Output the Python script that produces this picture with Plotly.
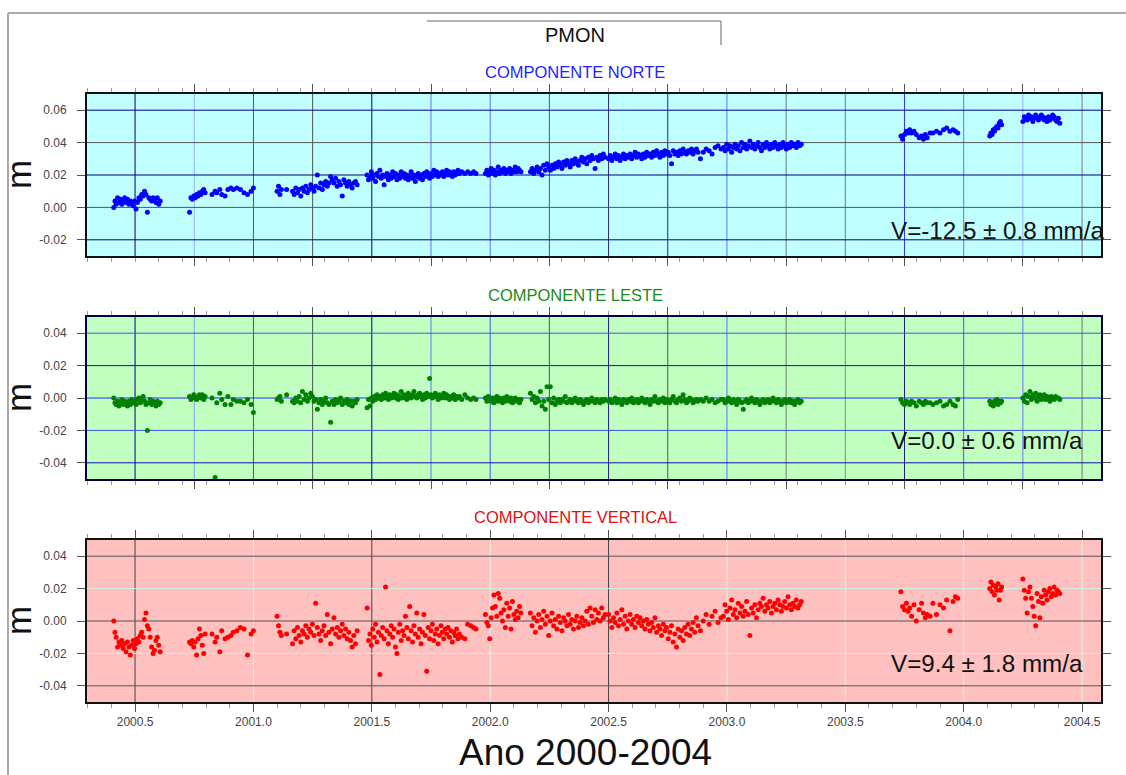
import plotly.graph_objects as go

# ---------------- DATA ----------------
# Epochs (decimal years) of each observation segment, with the North (N),
# East (E) and Up (U) residuals in metres.
tA = [2000.410, 2000.415, 2000.420, 2000.426, 2000.432, 2000.438, 2000.444, 2000.450, 2000.456, 2000.462,
      2000.468, 2000.474, 2000.480, 2000.486, 2000.492, 2000.498, 2000.504, 2000.510, 2000.516, 2000.522,
      2000.528, 2000.534, 2000.540, 2000.546, 2000.552, 2000.558, 2000.564, 2000.570, 2000.576, 2000.582,
      2000.588, 2000.594, 2000.600, 2000.606]
nA = [0.000, 0.004, 0.002, 0.006, 0.003, 0.005, 0.002, 0.004, 0.006, 0.003, 0.005, 0.002, 0.004, 0.003,
      0.001, 0.004, -0.001, 0.003, 0.006, 0.005, 0.008, 0.007, 0.010, 0.008, -0.003, 0.006, 0.005, 0.004,
      0.006, 0.005, 0.003, 0.006, 0.002, 0.004]
eA = [0.000, -0.003, -0.004, -0.002, -0.005, -0.003, -0.001, -0.004, -0.002, -0.003, -0.005, -0.002, -0.004,
      -0.001, -0.003, -0.002, -0.004, -0.001, 0.000, -0.003, -0.002, 0.001, -0.002, -0.004, -0.020, -0.003,
      -0.001, -0.004, -0.002, -0.003, -0.005, -0.002, -0.004, -0.003]
uA = [0.000, -0.007, -0.010, -0.016, -0.013, -0.015, -0.012, -0.017, -0.014, -0.019, -0.013, -0.016, -0.021,
      -0.015, -0.012, -0.017, -0.014, -0.011, -0.013, -0.009, -0.007, -0.010, 0.001, 0.005, -0.003, -0.005,
      -0.010, -0.016, -0.020, -0.018, -0.012, -0.010, -0.015, -0.019]

tB = [2000.730, 2000.736, 2000.742, 2000.748, 2000.754, 2000.760, 2000.766, 2000.772, 2000.778, 2000.784,
      2000.790, 2000.796]
nB = [-0.003, 0.006, 0.005, 0.007, 0.006, 0.008, 0.007, 0.009, 0.008, 0.010, 0.011, 0.009]
eB = [0.001, -0.001, 0.000, 0.002, 0.000, -0.001, 0.001, 0.002, 0.000, 0.002, -0.001, 0.001]
uB = [-0.013, -0.014, -0.012, -0.016, -0.013, -0.021, -0.011, -0.005, -0.009, -0.015, -0.020, -0.008]

tC = [2000.825, 2000.838, 2000.845, 2000.858, 2000.866, 2000.880, 2000.892, 2000.905, 2000.915, 2000.930,
      2000.945, 2000.960, 2000.975, 2000.990, 2001.000]
nC = [0.008, 0.010, 0.009, 0.011, 0.008, 0.007, 0.011, 0.012, 0.011, 0.012, 0.011, 0.009, 0.008, 0.010, 0.012]
eC = [0.000, -0.049, -0.003, 0.003, -0.001, -0.004, 0.001, -0.004, -0.001, -0.002, -0.002, -0.003, -0.001,
      -0.004, -0.009]
uC = [-0.008, -0.013, -0.010, -0.019, -0.006, -0.011, -0.010, -0.009, -0.007, -0.006, -0.004, -0.005, -0.021,
      -0.008, -0.006]

tD = [2001.100, 2001.106, 2001.112, 2001.118, 2001.140, 2001.165, 2001.172, 2001.179, 2001.186, 2001.193,
      2001.200, 2001.207, 2001.214, 2001.221, 2001.228, 2001.235, 2001.242, 2001.249, 2001.256, 2001.263,
      2001.270, 2001.277, 2001.284, 2001.291, 2001.298, 2001.305, 2001.312, 2001.319, 2001.326, 2001.333,
      2001.340, 2001.347, 2001.354, 2001.361, 2001.368, 2001.375, 2001.382, 2001.389, 2001.396, 2001.403,
      2001.410, 2001.417, 2001.424, 2001.431, 2001.438]
nD = [0.010, 0.013, 0.008, 0.011, 0.011, 0.010, 0.008, 0.012, 0.009, 0.011, 0.007, 0.012, 0.010, 0.013, 0.009,
      0.011, 0.014, 0.012, 0.010, 0.013, 0.020, 0.012, 0.015, 0.011, 0.014, 0.016, 0.013, 0.015, 0.019, 0.017,
      0.015, 0.018, 0.013, 0.016, 0.014, 0.007, 0.017, 0.015, 0.013, 0.016, 0.014, 0.012, 0.015, 0.016, 0.014]
eD = [-0.001, 0.000, 0.001, -0.002, 0.002, -0.002, -0.003, 0.000, -0.002, 0.001, -0.003, 0.004, -0.001, 0.002,
      -0.002, 0.000, 0.003, 0.001, -0.002, -0.001, -0.007, -0.003, -0.001, -0.004, -0.002, 0.000, -0.003,
      -0.004, -0.015, -0.002, -0.004, -0.001, -0.003, -0.002, 0.000, -0.004, -0.002, -0.003, -0.001, -0.004,
      -0.002, -0.005, -0.002, -0.003, -0.001]
uD = [0.003, -0.003, -0.007, -0.009, -0.008, -0.014, -0.006, -0.011, -0.004, -0.009, -0.013, -0.006, -0.008,
      -0.003, -0.010, -0.005, -0.007, -0.002, -0.009, 0.011, -0.004, -0.008, -0.012, -0.006, -0.003, -0.009,
      0.004, -0.007, -0.014, -0.005, 0.002, -0.008, -0.004, -0.010, -0.006, -0.002, -0.009, -0.005, -0.011,
      -0.007, -0.012, -0.016, -0.009, -0.014, -0.006]

tE = [2001.480, 2001.486, 2001.492, 2001.498, 2001.504, 2001.510,
      2001.516, 2001.522, 2001.528, 2001.534, 2001.540, 2001.546,
      2001.552, 2001.558, 2001.564, 2001.570, 2001.576, 2001.582,
      2001.588, 2001.594, 2001.600, 2001.606, 2001.612, 2001.618,
      2001.624, 2001.630, 2001.636, 2001.642, 2001.648, 2001.654,
      2001.660, 2001.666, 2001.672, 2001.678, 2001.684, 2001.690,
      2001.696, 2001.702, 2001.708, 2001.714, 2001.720, 2001.726,
      2001.732, 2001.738, 2001.744, 2001.750, 2001.756, 2001.762,
      2001.768, 2001.774, 2001.780, 2001.786, 2001.792, 2001.798,
      2001.804, 2001.810, 2001.816, 2001.822, 2001.828, 2001.834,
      2001.840, 2001.846, 2001.852, 2001.858, 2001.864, 2001.870,
      2001.880, 2001.893, 2001.905, 2001.918, 2001.930, 2001.940]
nE = [0.020, 0.017, 0.019, 0.022, 0.018, 0.020,
      0.016, 0.021, 0.019, 0.023, 0.018, 0.020,
      0.014, 0.019, 0.021, 0.017, 0.020, 0.018,
      0.022, 0.019, 0.021, 0.017, 0.020, 0.018,
      0.022, 0.019, 0.021, 0.018, 0.020, 0.017,
      0.019, 0.022, 0.018, 0.020, 0.016, 0.019,
      0.021, 0.018, 0.020, 0.017, 0.021, 0.019,
      0.022, 0.020, 0.018, 0.021, 0.019, 0.023,
      0.020, 0.022, 0.019, 0.021, 0.020, 0.022,
      0.019, 0.021, 0.023, 0.020, 0.022, 0.021,
      0.019, 0.022, 0.020, 0.021, 0.023, 0.021,
      0.022, 0.021, 0.022, 0.021, 0.022, 0.021]
eE = [-0.006, -0.001, -0.005, 0.000, -0.002, 0.001,
      -0.001, 0.002, 0.000, 0.001, -0.001, 0.002,
      0.000, 0.003, 0.001, -0.001, 0.002, 0.000,
      0.001, 0.003, 0.000, 0.002, -0.001, 0.001,
      0.004, 0.000, 0.002, 0.001, -0.001, 0.003,
      0.001, 0.000, 0.002, 0.004, 0.001, 0.000,
      0.002, 0.003, 0.001, -0.001, 0.002, 0.000,
      0.003, 0.001, 0.012, 0.002, 0.000, 0.001,
      0.003, 0.001, -0.001, 0.002, 0.000, 0.001,
      0.003, 0.000, 0.002, 0.001, -0.001, 0.001,
      0.000, 0.002, -0.001, 0.001, 0.000, 0.001,
      -0.001, 0.002, 0.000, -0.001, 0.000, -0.001]
uE = [0.008, -0.012, -0.008, -0.015, -0.005, -0.010,
      -0.002, -0.013, -0.007, -0.033, -0.009, -0.004,
      -0.011, 0.021, -0.006, -0.014, -0.008, -0.003,
      -0.010, -0.005, -0.016, -0.020, -0.007, -0.002,
      -0.012, -0.006, -0.009, 0.003, -0.004, -0.011,
      0.009, -0.006, -0.013, -0.003, -0.008, 0.005,
      -0.010, -0.005, -0.014, -0.007, 0.004, -0.009,
      -0.031, -0.004, -0.011, -0.006, -0.002, -0.012,
      -0.008, -0.005, -0.014, -0.009, -0.003, -0.007,
      -0.011, -0.005, -0.008, -0.004, -0.010, -0.006,
      -0.013, -0.007, -0.009, -0.005, -0.011, -0.008,
      -0.010, -0.011, -0.002, -0.003, -0.004, -0.005]

tF = [2001.980, 2001.986, 2001.992, 2001.998, 2002.004, 2002.010,
      2002.016, 2002.022, 2002.028, 2002.034, 2002.040, 2002.046,
      2002.052, 2002.058, 2002.064, 2002.070, 2002.076, 2002.082,
      2002.088, 2002.094, 2002.100, 2002.106, 2002.112, 2002.118,
      2002.124, 2002.130]
nF = [0.021, 0.023, 0.020, 0.022, 0.024, 0.021,
      0.023, 0.020, 0.022, 0.025, 0.021, 0.023,
      0.022, 0.024, 0.021, 0.023, 0.022, 0.024,
      0.021, 0.023, 0.022, 0.025, 0.022, 0.024,
      0.023, 0.022]
eF = [0.000, -0.002, 0.001, -0.001, -0.002, 0.000,
      -0.003, -0.001, 0.001, -0.002, 0.000, -0.001,
      -0.003, 0.000, -0.002, 0.001, -0.001, -0.002,
      0.000, -0.003, -0.001, 0.000, -0.002, -0.001,
      -0.003, -0.001]
uF = [0.004, -0.001, -0.003, -0.011, 0.002, 0.008,
      0.016, 0.009, 0.003, 0.017, 0.014, 0.005,
      0.000, 0.007, -0.004, 0.011, 0.003, 0.008,
      -0.005, 0.012, 0.004, 0.001, 0.006, 0.002,
      0.009, 0.005]

tG = [2002.170, 2002.177, 2002.184, 2002.191, 2002.198, 2002.205,
      2002.212, 2002.219, 2002.226, 2002.233, 2002.240, 2002.247,
      2002.254, 2002.261, 2002.268, 2002.275, 2002.282, 2002.289,
      2002.296, 2002.303, 2002.310, 2002.317, 2002.324, 2002.331,
      2002.338, 2002.345, 2002.352, 2002.359, 2002.366, 2002.373,
      2002.380, 2002.387, 2002.394, 2002.401, 2002.408, 2002.415,
      2002.422, 2002.429, 2002.436, 2002.443, 2002.450, 2002.457,
      2002.464, 2002.471, 2002.478, 2002.485]
nG = [0.022, 0.024, 0.021, 0.023, 0.025, 0.022,
      0.024, 0.020, 0.026, 0.023, 0.027, 0.025,
      0.023, 0.026, 0.024, 0.027, 0.025, 0.028,
      0.026, 0.024, 0.028, 0.026, 0.029, 0.027,
      0.025, 0.029, 0.027, 0.030, 0.028, 0.026,
      0.029, 0.031, 0.028, 0.030, 0.027, 0.031,
      0.029, 0.032, 0.030, 0.024, 0.031, 0.029,
      0.032, 0.030, 0.033, 0.031]
eG = [0.003, -0.001, 0.001, -0.003, 0.000, -0.002,
      0.004, -0.005, -0.002, -0.007, 0.007, -0.001,
      0.007, -0.003, 0.000, -0.004, -0.002, -0.001,
      -0.003, -0.001, -0.002, 0.001, -0.003, -0.002,
      -0.001, -0.003, -0.002, 0.000, -0.002, -0.003,
      -0.001, -0.002, -0.004, -0.002, -0.001, -0.003,
      -0.002, 0.000, -0.002, -0.003, -0.001, -0.002,
      -0.003, -0.001, -0.002, -0.001]
uG = [0.005, -0.003, 0.002, -0.007, 0.000, 0.004,
      -0.004, 0.001, 0.006, -0.002, 0.003, -0.009,
      0.000, 0.005, -0.003, 0.001, -0.005, 0.003,
      -0.001, -0.006, 0.002, 0.000, -0.003, 0.004,
      -0.002, 0.001, -0.005, 0.000, 0.003, -0.004,
      -0.001, 0.002, -0.003, 0.000, 0.006, -0.002,
      0.008, 0.003, -0.001, 0.007, 0.001, 0.005,
      0.000, 0.008, 0.002, 0.004]

tH = [2002.500, 2002.507, 2002.514, 2002.521, 2002.528, 2002.535,
      2002.542, 2002.549, 2002.556, 2002.563, 2002.570, 2002.577,
      2002.584, 2002.591, 2002.598, 2002.605, 2002.612, 2002.619,
      2002.626, 2002.633, 2002.640, 2002.647, 2002.654, 2002.661,
      2002.668, 2002.675, 2002.682, 2002.689, 2002.696, 2002.703,
      2002.710, 2002.717, 2002.724, 2002.731, 2002.738, 2002.745,
      2002.752, 2002.759, 2002.766, 2002.773, 2002.780, 2002.787,
      2002.794, 2002.801, 2002.808, 2002.815, 2002.822, 2002.829,
      2002.836, 2002.843, 2002.850, 2002.857, 2002.864, 2002.871,
      2002.878]
nH = [0.030, 0.032, 0.029, 0.031, 0.033, 0.030,
      0.032, 0.029, 0.031, 0.033, 0.030, 0.032,
      0.031, 0.033, 0.030, 0.032, 0.034, 0.031,
      0.033, 0.032, 0.030, 0.033, 0.031, 0.034,
      0.032, 0.033, 0.031, 0.034, 0.032, 0.035,
      0.033, 0.031, 0.034, 0.032, 0.035, 0.033,
      0.034, 0.032, 0.027, 0.035, 0.033, 0.034,
      0.032, 0.035, 0.033, 0.036, 0.034, 0.033,
      0.035, 0.034, 0.036, 0.033, 0.035, 0.036,
      0.034]
eH = [-0.002, -0.001, -0.003, -0.002, 0.000, -0.003,
      -0.001, -0.002, -0.004, -0.001, -0.002, -0.003,
      -0.001, -0.002, 0.000, -0.003, -0.002, -0.001,
      -0.003, -0.002, 0.000, -0.002, -0.003, -0.001,
      -0.002, -0.004, -0.001, -0.002, 0.001, -0.002,
      -0.003, -0.001, -0.002, 0.000, -0.003, -0.001,
      -0.002, -0.003, -0.001, 0.001, -0.002, -0.003,
      -0.001, 0.000, -0.002, 0.002, -0.001, -0.003,
      -0.002, 0.000, -0.001, -0.003, -0.002, -0.001,
      -0.002]
uH = [0.004, 0.000, -0.004, 0.002, -0.001, 0.005,
      -0.003, 0.001, 0.007, -0.002, 0.003, -0.005,
      0.000, 0.004, -0.002, 0.001, -0.004, 0.003,
      -0.001, 0.002, -0.003, 0.000, -0.005, 0.001,
      -0.002, -0.006, -0.001, -0.004, 0.002, -0.007,
      -0.003, -0.005, -0.009, -0.002, -0.006, -0.004,
      -0.011, -0.007, -0.003, -0.013, -0.008, -0.016,
      -0.005, -0.010, -0.006, -0.012, -0.004, -0.008,
      -0.002, -0.009, -0.005, -0.001, -0.007, 0.002,
      -0.003]

tI = [2002.888, 2002.900, 2002.912, 2002.925, 2002.937, 2002.950, 2002.962, 2002.975]
nI = [0.030, 0.034, 0.036, 0.035, 0.033, 0.037, 0.038, 0.036]
eI = [-0.001, -0.002, 0.000, -0.002, -0.001, -0.003, -0.002, -0.001]
uI = [-0.006, 0.000, 0.004, -0.002, 0.003, 0.006, -0.001, 0.002]

tJ = [2002.985, 2002.992, 2002.999, 2003.006, 2003.013, 2003.020,
      2003.027, 2003.034, 2003.041, 2003.048, 2003.055, 2003.062,
      2003.069, 2003.076, 2003.083, 2003.090, 2003.097, 2003.104,
      2003.111, 2003.118, 2003.125, 2003.132, 2003.139, 2003.146,
      2003.153, 2003.160, 2003.167, 2003.174, 2003.181, 2003.188,
      2003.195, 2003.202, 2003.209, 2003.216, 2003.223, 2003.230,
      2003.237, 2003.244, 2003.251, 2003.258, 2003.265, 2003.272,
      2003.279, 2003.286, 2003.293, 2003.300, 2003.307, 2003.314]
nJ = [0.037, 0.035, 0.039, 0.036, 0.038, 0.034,
      0.037, 0.039, 0.036, 0.038, 0.035, 0.040,
      0.037, 0.039, 0.036, 0.038, 0.041, 0.037,
      0.039, 0.036, 0.038, 0.040, 0.037, 0.035,
      0.039, 0.037, 0.040, 0.038, 0.036, 0.039,
      0.037, 0.040, 0.038, 0.036, 0.039, 0.037,
      0.040, 0.038, 0.036, 0.039, 0.037, 0.040,
      0.038, 0.039, 0.037, 0.040, 0.038, 0.039]
eJ = [-0.001, -0.003, -0.002, 0.000, -0.002, -0.003,
      -0.001, -0.002, -0.004, -0.001, -0.002, -0.003,
      -0.007, -0.002, -0.001, -0.003, -0.002, 0.000,
      -0.002, -0.003, -0.001, -0.002, -0.004, -0.002,
      -0.001, -0.003, -0.002, -0.001, -0.003, -0.002,
      0.000, -0.002, -0.003, -0.001, -0.002, -0.004,
      -0.002, -0.001, -0.003, -0.002, -0.001, -0.003,
      -0.002, -0.004, -0.002, -0.001, -0.003, -0.002]
uJ = [0.003, 0.010, 0.006, 0.001, 0.008, 0.013,
      0.004, 0.007, 0.002, 0.011, 0.005, 0.009,
      0.003, 0.006, 0.012, 0.004, -0.009, 0.008,
      0.005, 0.010, 0.002, 0.007, 0.011, 0.009,
      0.014, 0.006, 0.010, 0.008, 0.012, 0.005,
      0.009, 0.011, 0.007, 0.013, 0.010, 0.006,
      0.009, 0.012, 0.008, 0.015, 0.010, 0.007,
      0.011, 0.009, 0.013, 0.008, 0.010, 0.012]

tK = [2003.735, 2003.742, 2003.750, 2003.758, 2003.765, 2003.772, 2003.780, 2003.790, 2003.800, 2003.812,
      2003.822, 2003.830, 2003.838, 2003.846, 2003.858, 2003.870, 2003.885, 2003.900, 2003.915, 2003.928,
      2003.942, 2003.955, 2003.965, 2003.975]
nK = [0.044, 0.042, 0.045, 0.047, 0.046, 0.048, 0.046, 0.047, 0.045, 0.043, 0.044, 0.042, 0.045, 0.043,
      0.046, 0.046, 0.047, 0.046, 0.048, 0.049, 0.047, 0.048, 0.047, 0.046]
eK = [-0.001, -0.003, -0.004, -0.002, -0.003, -0.004, -0.002, -0.003, -0.005, -0.002, -0.003, -0.004,
      -0.002, -0.003, -0.003, -0.004, -0.003, -0.002, -0.005, -0.004, -0.002, -0.004, -0.005, -0.001]
uK = [0.018, 0.009, 0.007, 0.011, 0.006, 0.008, 0.003, 0.010, 0.000, 0.007, 0.011, 0.005, 0.002, 0.004,
      0.003, 0.011, 0.004, 0.010, 0.008, 0.013, -0.006, 0.012, 0.015, 0.014]

tL = [2004.110, 2004.115, 2004.120, 2004.125, 2004.130, 2004.135, 2004.140, 2004.145, 2004.150, 2004.155,
      2004.160]
nL = [0.044, 0.046, 0.045, 0.048, 0.047, 0.049, 0.050, 0.049, 0.052, 0.053, 0.051]
eL = [-0.002, -0.004, -0.003, -0.005, -0.002, -0.003, -0.001, -0.004, -0.002, -0.003, -0.002]
uL = [0.020, 0.024, 0.018, 0.022, 0.016, 0.021, 0.019, 0.023, 0.013, 0.019, 0.021]

tM = [2004.250, 2004.256, 2004.262, 2004.268, 2004.274, 2004.280,
      2004.286, 2004.292, 2004.298, 2004.304, 2004.310, 2004.316,
      2004.322, 2004.328, 2004.334, 2004.340, 2004.346, 2004.352,
      2004.358, 2004.364, 2004.370, 2004.376, 2004.382, 2004.388,
      2004.394, 2004.400, 2004.406]
nM = [0.053, 0.056, 0.055, 0.054, 0.057, 0.055,
      0.056, 0.053, 0.055, 0.057, 0.056, 0.054,
      0.055, 0.057, 0.056, 0.054, 0.055, 0.053,
      0.056, 0.054, 0.055, 0.057, 0.056, 0.054,
      0.053, 0.055, 0.052]
eM = [0.000, -0.002, 0.002, -0.003, 0.001, 0.004,
      -0.001, 0.002, 0.000, 0.003, -0.002, 0.001,
      0.002, -0.001, 0.000, 0.002, -0.001, 0.001,
      0.000, -0.002, 0.001, 0.000, -0.001, 0.001,
      0.000, 0.000, -0.001]
uM = [0.026, 0.019, 0.014, 0.005, 0.018, 0.021,
      0.014, 0.009, 0.003, -0.003, 0.017, 0.012,
      0.002, 0.015, 0.011, 0.019, 0.016, 0.013,
      0.018, 0.020, 0.015, 0.017, 0.021, 0.016,
      0.019, 0.018, 0.017]

# Tick labels
x_tick_vals = [2000.5, 2001.0, 2001.5, 2002.0, 2002.5, 2003.0, 2003.5, 2004.0, 2004.5]
x_tick_text = ["2000.5", "2001.0", "2001.5", "2002.0", "2002.5", "2003.0", "2003.5", "2004.0", "2004.5"]
x_quarter_vals = [2000.5, 2000.75, 2001.0, 2001.25, 2001.5, 2001.75, 2002.0, 2002.25, 2002.5, 2002.75,
                  2003.0, 2003.25, 2003.5, 2003.75, 2004.0, 2004.25, 2004.5]
y1_tick_vals = [-0.02, 0.0, 0.02, 0.04, 0.06]
y1_tick_text = ["-0.02", "0.00", "0.02", "0.04", "0.06"]
y23_tick_vals = [-0.04, -0.02, 0.0, 0.02, 0.04]
y23_tick_text = ["-0.04", "-0.02", "0.00", "0.02", "0.04"]

titles = ["COMPONENTE NORTE", "COMPONENTE LESTE", "COMPONENTE VERTICAL"]
rates = ["V=-12.5 \u00b1 0.8 mm/a", "V=0.0 \u00b1 0.6 mm/a", "V=9.4 \u00b1 1.8 mm/a"]

# ---------------- assemble ----------------
seg_t = [tA, tB, tC, tD, tE, tF, tG, tH, tI, tJ, tK, tL, tM]
seg_n = [nA, nB, nC, nD, nE, nF, nG, nH, nI, nJ, nK, nL, nM]
seg_e = [eA, eB, eC, eD, eE, eF, eG, eH, eI, eJ, eK, eL, eM]
seg_u = [uA, uB, uC, uD, uE, uF, uG, uH, uI, uJ, uK, uL, uM]
for i, (a, b, c, d) in enumerate(zip(seg_t, seg_n, seg_e, seg_u)):
    if not (len(a) == len(b) == len(c) == len(d)):
        raise ValueError(f"segment {i}: {len(a)} {len(b)} {len(c)} {len(d)}")

epochs = [v for s in seg_t for v in s]
north = [v for s in seg_n for v in s]
east = [v for s in seg_e for v in s]
up = [v for s in seg_u for v in s]

# ---------------- styling ----------------
FONT = "Liberation Sans, Arial, Helvetica, sans-serif"
W, H = 1126, 775
ML, MR, MT, MB = 87, 25, 94, 73
PW, PH = W - ML - MR, H - MT - MB


def fx(px):
    return (px - ML) / PW


def fy(py):
    return (H - MB - py) / PH


XR = [2000.297, 2004.58]
bg = ["#c0ffff", "#c0ffc0", "#ffc0c0"]
dot = ["#0000ff", "#008000", "#ff0000"]
frame = ["#111111", "#00003a", "#111111"]
title_col = ["#1f1fff", "#1a8a1a", "#e01010"]
domains = [[fy(256), fy(94)], [fy(479), fy(317)], [fy(702), fy(540)]]

NAVY, MBLUE, LBLUE, DGRAY, GRAY, BLUE = "#000080", "#6670ff", "#9aaeff", "#555555", "#777777", "#3038ff"
vgrid1 = [NAVY, LBLUE, DGRAY, DGRAY, NAVY, MBLUE, MBLUE, DGRAY, "#2a2a70", "#2020a0", MBLUE, GRAY, GRAY,
          BLUE, MBLUE, LBLUE, GRAY]
hgrid1 = [NAVY, DGRAY, NAVY, DGRAY, NAVY]
vgrid2 = [NAVY, "#7f9fff", DGRAY, DGRAY, NAVY, MBLUE, "#4455ff", DGRAY, "#202080", DGRAY, "#5570ff", GRAY,
          "#888888", "#202080", "#4455ff", MBLUE, GRAY]
hgrid2 = ["#1010a0", "#4050e0", "#2030ff", "#1010c0", "#4050ff"]
vgrid3 = ["#444444", "#d8f2e6", "#444444", "#d8f2e6", "#444444", "#d8f2e6", "#d8f2e6", "#d8f2e6", "#d8f2e6"]
hgrid3 = ["#555555", "#d0f0e0", "#555555", "#d0f0e0", "#555555"]

fig = go.Figure()
series = [north, east, up]
for i in range(3):
    fig.add_trace(go.Scatter(
        x=epochs, y=series[i], mode="markers",
        marker=dict(size=5, color=dot[i], line=dict(width=0)),
        xaxis="x" if i == 0 else f"x{i+1}", yaxis="y" if i == 0 else f"y{i+1}",
        showlegend=False, hoverinfo="x+y"))

layout = dict(width=W, height=H, margin=dict(l=ML, r=MR, t=MT, b=MB),
              paper_bgcolor="white", plot_bgcolor="white", showlegend=False,
              font=dict(family=FONT, color="#444444", size=12))
for i in range(3):
    xn = "xaxis" if i == 0 else f"xaxis{i+1}"
    yn = "yaxis" if i == 0 else f"yaxis{i+1}"
    ya = "y" if i == 0 else f"y{i+1}"
    xa = "x" if i == 0 else f"x{i+1}"
    major = x_tick_vals if i == 2 else x_quarter_vals
    if i == 2:
        ttext = x_tick_text
    else:
        ttext = ["" for _ in major]
    layout[xn] = dict(domain=[0, 1], anchor=ya, range=XR, showgrid=False, zeroline=False,
                      tickmode="array", tickvals=major, ticktext=ttext,
                      showticklabels=(i == 2), ticks="outside", ticklen=8, tickwidth=1,
                      tickcolor="#555555", showline=True, linecolor=frame[i], linewidth=2,
                      mirror="ticks", tickfont=dict(size=12, color="#444444", family=FONT),
                      minor=dict(tickmode="linear", tick0=2000.0, dtick=0.1, ticks="outside",
                                 ticklen=4, tickwidth=1, tickcolor="#9a9a9a", showgrid=False))
    yv = y1_tick_vals if i == 0 else y23_tick_vals
    yt = y1_tick_text if i == 0 else y23_tick_text
    yr = [-0.03, 0.07] if i == 0 else [-0.05, 0.05]
    layout[yn] = dict(domain=domains[i], anchor=xa, range=yr, showgrid=False, zeroline=False,
                      tickmode="array", tickvals=yv, ticktext=yt, ticks="outside", ticklen=8,
                      tickwidth=1, tickcolor="#555555", showline=True, linecolor=frame[i],
                      linewidth=2, mirror="ticks", ticklabelstandoff=8,
                      tickfont=dict(size=12, color="#444444", family=FONT))
fig.update_layout(**layout)

shapes = []
vgrids = [vgrid1, vgrid2, vgrid3]
hgrids = [hgrid1, hgrid2, hgrid3]
for i in range(3):
    xa = "x" if i == 0 else f"x{i+1}"
    ya = "y" if i == 0 else f"y{i+1}"
    shapes.append(dict(type="rect", xref=f"{xa} domain", yref=f"{ya} domain", x0=0, x1=1, y0=0, y1=1,
                       fillcolor=bg[i], line=dict(width=0), layer="below"))
    gx = x_tick_vals if i == 2 else x_quarter_vals
    for v, c in zip(gx, vgrids[i]):
        shapes.append(dict(type="line", xref=xa, yref=f"{ya} domain", x0=v, x1=v, y0=0, y1=1,
                           line=dict(color=c, width=1), layer="below"))
    gy = y1_tick_vals if i == 0 else y23_tick_vals
    for v, c in zip(gy, hgrids[i]):
        shapes.append(dict(type="line", xref=f"{xa} domain", yref=ya, x0=0, x1=1, y0=v, y1=v,
                           line=dict(color=c, width=1), layer="below"))
# page frame and title bracket
shapes.append(dict(type="line", xref="paper", yref="paper", x0=fx(8), x1=fx(1126), y0=fy(13), y1=fy(13),
                   line=dict(color="#aaaaaa", width=2)))
shapes.append(dict(type="line", xref="paper", yref="paper", x0=fx(8), x1=fx(8), y0=fy(13), y1=fy(775),
                   line=dict(color="#aaaaaa", width=2)))
shapes.append(dict(type="line", xref="paper", yref="paper", x0=fx(427), x1=fx(721), y0=fy(21), y1=fy(21),
                   line=dict(color="#666666", width=1)))
shapes.append(dict(type="line", xref="paper", yref="paper", x0=fx(721), x1=fx(721), y0=fy(21), y1=fy(45),
                   line=dict(color="#666666", width=1)))
fig.update_layout(shapes=shapes)


def label(text, px, py, size, color, angle=0, xanchor="center"):
    return dict(text=text, x=fx(px), y=fy(py), xref="paper", yref="paper", showarrow=False,
                xanchor=xanchor, yanchor="middle", textangle=angle,
                font=dict(size=size, color=color, family=FONT))


ann = [label("PMON", 575, 35, 20, "#111111")]
title_y = [72, 295, 517]
m_y = [175, 398, 621]
rate_y = [230, 440, 663]
for i in range(3):
    ann.append(label(titles[i], 575, title_y[i], 16.5, title_col[i]))
    ann.append(label("m", 18, m_y[i], 35, "#111111", angle=-90))
    ann.append(label(rates[i], 889, rate_y[i], 24.2, "#111111", xanchor="left"))
ann.append(label("Ano 2000-2004", 585, 752, 37, "#111111"))
fig.update_layout(annotations=ann)

fig.write_html("out.html", config={"displayModeBar": False},
               post_script="document.body.style.margin='0px';")
